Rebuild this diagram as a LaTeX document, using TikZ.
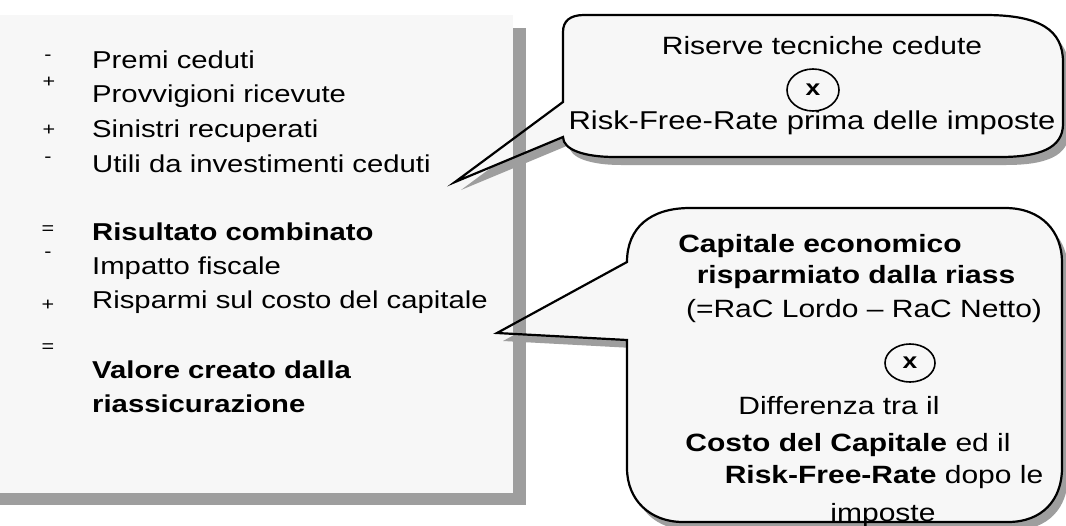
\documentclass[tikz,border=0pt]{standalone}
\usepackage{fontspec}
\setmainfont{Liberation Sans}[FakeStretch=1.2]
\usetikzlibrary{shapes.geometric}
\definecolor{shd}{gray}{0.62}
\definecolor{speck}{gray}{0.97}
\newcommand\calloutA[1]{#1 (563,102) -- (563,32) .. controls (563,21) and (570,15) .. (584,15) -- (985,15) .. controls (1040,15) and (1063,30) .. (1063,62) -- (1063,124) .. controls (1063,148) and (1040,157) .. (1000,157) -- (615,157) .. controls (585,157) and (563,150) .. (563,137) -- (455,182) -- cycle;}
\newcommand\calloutB[1]{#1 (627,262) .. controls (627,228) and (650,208) .. (690,208) -- (1005,208) .. controls (1042,208) and (1062,232) .. (1062,262) -- (1062,468) .. controls (1062,500) and (1042,522) .. (1008,522) -- (683,522) .. controls (650,522) and (627,500) .. (627,468) -- (627,340) -- (497,333) -- cycle;}
\begin{document}
\begin{tikzpicture}[x=1pt,y=-1pt,
  item/.style={anchor=base west, inner sep=0pt, font=\fontsize{24.4}{29}\selectfont},
  sign/.style={inner sep=0pt, font=\fontsize{18}{20}\selectfont},
  ctext/.style={anchor=base, inner sep=0pt, font=\fontsize{25}{30}\selectfont},
  btext/.style={ctext, font=\bfseries\fontsize{25}{30}\selectfont},
  times/.style={draw, ellipse, line width=1.6pt, inner sep=0pt, font=\bfseries\fontsize{22}{26}\selectfont},
  cline/.style={line width=2.2pt, line join=miter}]
\useasboundingbox (0,0) rectangle (1066,525);
\fill[white] (0,0) rectangle (1066,525);
% left panel with shadow
\fill[shd] (0,28) rectangle (526,505);
\fill[speck] (0,15) rectangle (513,493);
% callout A
\calloutA{\fill[shd, shift={(6,8)}]}
\calloutA{\fill[speck]}
\begin{scope}\calloutA{\clip}\fill[shd] (513,28) rectangle (526,505);\end{scope}
\calloutA{\draw[cline]}
% callout B
\calloutB{\fill[shd, shift={(6,8)}]}
\calloutB{\fill[speck]}
\begin{scope}\calloutB{\clip}\fill[shd] (513,28) rectangle (526,505);\end{scope}
\calloutB{\draw[cline]}
% list
\node[sign] (s1) at (48,58) {-};
\node[item] (l1) at (92,68) {Premi ceduti};
\node[sign] (s2) at (49,82) {+};
\node[item] (l2) at (92,102) {Provvigioni ricevute};
\node[sign] (s3) at (49,130) {+};
\node[item] (l3) at (92,137) {Sinistri recuperati};
\node[sign] (s4) at (48,160) {-};
\node[item] (l4) at (92,172) {Utili da investimenti ceduti};
\node[sign] (s5) at (48,230) {=};
\node[item, font=\bfseries\fontsize{24.4}{29}\selectfont] (l5) at (92,240) {Risultato combinato};
\node[sign] (s6) at (48,255) {-};
\node[item] (l6) at (92,274) {Impatto fiscale};
\node[sign] (s7) at (48,305) {+};
\node[item] (l7) at (92,308) {Risparmi sul costo del capitale};
\node[sign] (s8) at (48,348) {=};
\node[item, font=\bfseries\fontsize{24.4}{29}\selectfont] (l8) at (92,378) {Valore creato dalla};
\node[item, font=\bfseries\fontsize{24.4}{29}\selectfont] (l9) at (92,412) {riassicurazione};
% callout A text
\node[ctext] (ra) at (822,54) {Riserve tecniche cedute};
\node[times, minimum width=52pt, minimum height=42pt] (xa) at (813,90) {x};
\node[ctext, font=\fontsize{25.8}{30}\selectfont] (rfa) at (812,129) {Risk-Free-Rate prima delle imposte};
% callout B text
\node[btext] (cb1) at (820,252) {Capitale economico};
\node[btext] (cb2) at (856,283) {risparmiato dalla riass};
\node[ctext] (cb3) at (864,317) {(=RaC Lordo – RaC Netto)};
\node[times, minimum width=50pt, minimum height=38pt] (xb) at (910,363) {x};
\node[ctext] (cb4) at (839,414) {Differenza tra il};
\node[ctext] (cb5) at (848,451) {\bfseries Costo del Capitale\mdseries{} ed il};
\node[ctext] (cb6) at (884,483) {\bfseries Risk-Free-Rate\mdseries{} dopo le};
\node[ctext] (cb7) at (883,521) {imposte};
\end{tikzpicture}
\end{document}
